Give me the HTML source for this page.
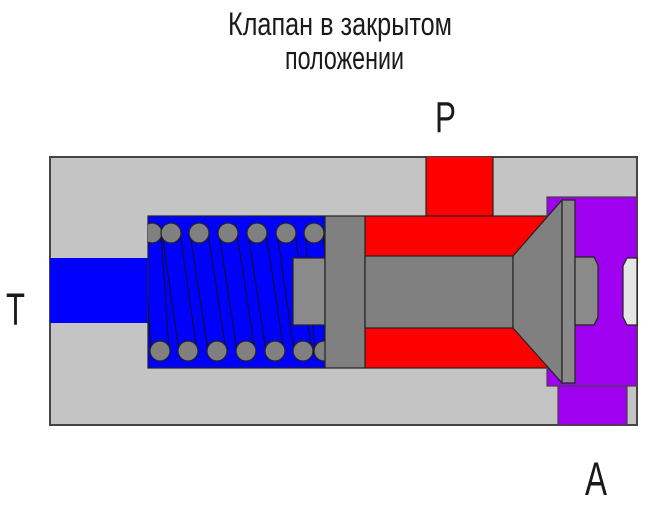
<!DOCTYPE html>
<html><head><meta charset="utf-8"><style>html,body{margin:0;padding:0;background:#fff}svg{display:block}</style></head>
<body>
<svg width="671" height="506" viewBox="0 0 671 506" xmlns="http://www.w3.org/2000/svg">
<defs><clipPath id="bc"><rect x="148" y="216" width="177" height="152"/></clipPath></defs>
<g font-family="'Liberation Sans Narrow','Liberation Sans','DejaVu Sans',sans-serif" fill="#1a1a1a">
<text x="228" y="35" font-size="32" textLength="224" lengthAdjust="spacingAndGlyphs">Клапан в закрытом</text>
<text x="285" y="69" font-size="32" textLength="119" lengthAdjust="spacingAndGlyphs">положении</text>
<text x="435" y="132" font-size="44" textLength="21" lengthAdjust="spacingAndGlyphs">P</text>
<text x="6" y="325" font-size="45" textLength="19" lengthAdjust="spacingAndGlyphs">T</text>
<text x="585" y="495" font-size="47" textLength="22" lengthAdjust="spacingAndGlyphs">A</text>
</g>
<g stroke="#222" stroke-width="1.2">
<rect x="50" y="157" width="587" height="268" fill="#c4c4c4" stroke="#444" stroke-width="2"/>
<rect x="50" y="258" width="98" height="65" fill="#0000ff" stroke="none"/>
<rect x="148" y="216" width="177" height="152" fill="#0000ff"/>
<g clip-path="url(#bc)">
<g stroke="#111" stroke-width="1">
<line x1="143" y1="233" x2="151" y2="351"/><line x1="161" y1="233" x2="169" y2="351"/>
<line x1="162" y1="233" x2="179" y2="351"/><line x1="180" y1="233" x2="197" y2="351"/>
<line x1="190" y1="233" x2="208" y2="351"/><line x1="208" y1="233" x2="226" y2="351"/>
<line x1="219" y1="233" x2="237" y2="351"/><line x1="237" y1="233" x2="255" y2="351"/>
<line x1="248" y1="233" x2="266" y2="351"/><line x1="266" y1="233" x2="284" y2="351"/>
<line x1="277" y1="233" x2="294" y2="351"/><line x1="295" y1="233" x2="312" y2="351"/>
<line x1="305" y1="233" x2="315" y2="351"/><line x1="323" y1="233" x2="333" y2="351"/>
</g>
<g fill="#808080">
<circle cx="152" cy="233" r="10"/><circle cx="171" cy="233" r="10"/><circle cx="199" cy="233" r="10"/><circle cx="228" cy="233" r="10"/><circle cx="257" cy="233" r="10"/><circle cx="286" cy="233" r="10"/><circle cx="314" cy="233" r="10"/>
<circle cx="160" cy="351" r="10"/><circle cx="188" cy="351" r="10"/><circle cx="217" cy="351" r="10"/><circle cx="246" cy="351" r="10"/><circle cx="275" cy="351" r="10"/><circle cx="303" cy="351" r="10"/><circle cx="324" cy="351" r="10"/>
</g>
</g>
<rect x="293" y="258" width="32" height="67" fill="#8a8a8a"/>
<rect x="426" y="157" width="67" height="59" fill="#ff0000" stroke="none"/>
<line x1="426" y1="157" x2="426" y2="216"/><line x1="493" y1="157" x2="493" y2="216"/>
<rect x="365" y="216" width="185" height="152" fill="#ff0000"/>
<rect x="547" y="197" width="90" height="189" fill="#a000f0" stroke="#444"/>
<rect x="558" y="386" width="69" height="39" fill="#a000f0" stroke="#444"/>
<rect x="325" y="216" width="40" height="152" fill="#808080"/>
<rect x="365" y="256" width="148" height="72" fill="#808080"/>
<polygon points="513,256 562,200 562,383 513,328" fill="#808080"/>
<rect x="562" y="200" width="13" height="183" fill="#8a8a8a"/>
<polygon points="575,257 594,257 598,265 598,317 594,325 575,325" fill="#8a8a8a"/>
<polygon points="637,258 627,258 623,266 623,317 627,325 637,325" fill="#e6e6e6"/>
</g>
</svg>
</body></html>
